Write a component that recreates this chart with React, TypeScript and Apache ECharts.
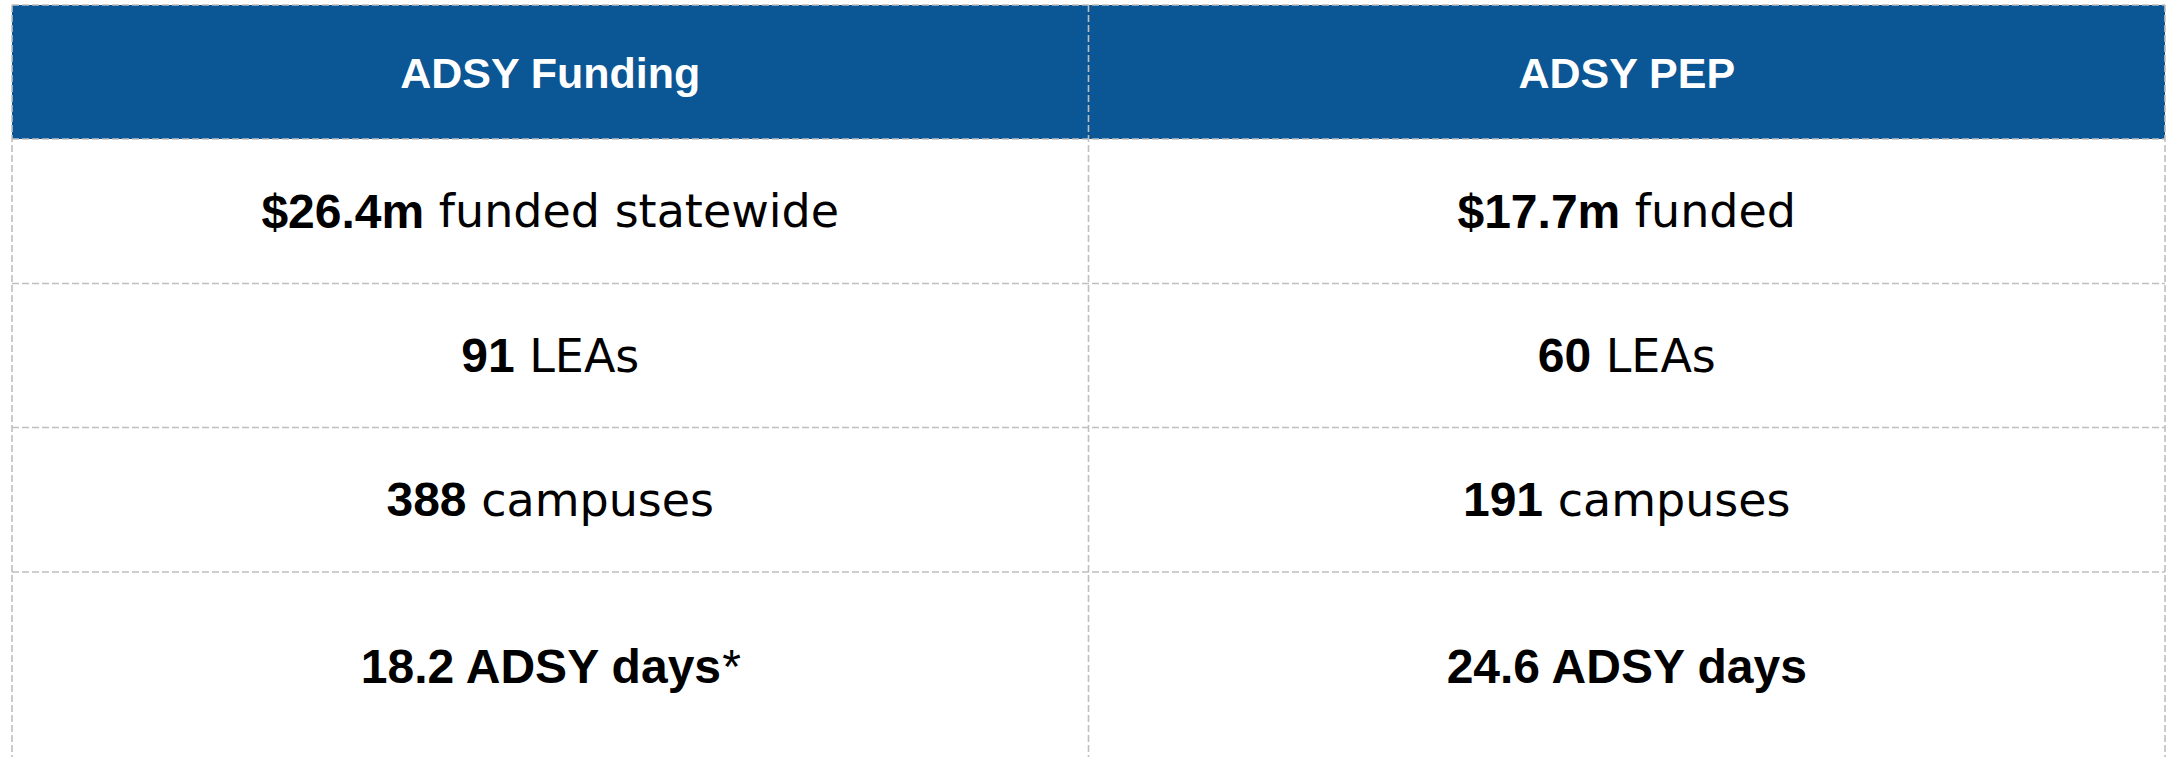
import React, { useEffect, useRef } from "react";
import * as echarts from "echarts";

const W = 2172;
const H = 757;

const headers = ["ADSY Funding", "ADSY PEP"];
const fundingBold = ["$26.4m", "91", "388", "18.2 ADSY days"];
const fundingText = [" funded statewide", " LEAs", " campuses", "*"];
const pepBold = ["$17.7m", "60", "191", "24.6 ADSY days"];
const pepText = [" funded", " LEAs", " campuses", ""];

const colEdges = [12, 1088.5, 2165];
const rowEdges = [5, 139, 283.5, 427.5, 572, 757];

const HEADER_BG = "#0B5694";
const GRID = "#BFBFBF";
const FONT = "'Liberation Sans', Arial, Helvetica, sans-serif";
const FONT_REG = "'DejaVu Sans', 'Liberation Sans', Arial, sans-serif";

export default function App() {
  const ref = useRef<HTMLDivElement>(null);

  useEffect(() => {
    if (!ref.current) return;
    const chart = echarts.init(ref.current, null, { renderer: "svg", width: W, height: H });
    const elements: any[] = [];

    elements.push({
      type: "rect",
      shape: { x: colEdges[0], y: rowEdges[0], width: colEdges[2] - colEdges[0], height: rowEdges[1] - rowEdges[0] },
      style: { fill: HEADER_BG },
      z: 1,
    });

    const dash = { stroke: GRID, lineWidth: 1.6, lineDash: [7, 3] };
    for (let i = 0; i < rowEdges.length - 1; i++) {
      elements.push({
        type: "line",
        shape: { x1: colEdges[0], y1: rowEdges[i], x2: colEdges[2], y2: rowEdges[i] },
        style: { ...dash },
        z: 5,
      });
    }
    colEdges.forEach((x) => {
      elements.push({
        type: "line",
        shape: { x1: x, y1: rowEdges[0], x2: x, y2: H },
        style: { ...dash },
        z: 5,
      });
    });

    headers.forEach((h, c) => {
      elements.push({
        type: "text",
        x: (colEdges[c] + colEdges[c + 1]) / 2,
        y: (rowEdges[0] + rowEdges[1]) / 2 + 1,
        style: {
          text: h,
          fill: "#FFFFFF",
          font: `bold 43px ${FONT}`,
          align: "center",
          verticalAlign: "middle",
        },
        z: 10,
      });
    });

    const cols = [
      { bold: fundingBold, text: fundingText },
      { bold: pepBold, text: pepText },
    ];
    cols.forEach((col, c) => {
      col.bold.forEach((b, r) => {
        const t = col.text[r];
        const key = t === "*" ? "a" : "r";
        const str = t ? `{b|${b}}{${key}|${t}}` : `{b|${b}}`;
        elements.push({
          type: "text",
          x: (colEdges[c] + colEdges[c + 1]) / 2,
          y: r === 3 ? 666 : (rowEdges[r + 1] + rowEdges[r + 2]) / 2,
          style: {
            text: str,
            align: "center",
            verticalAlign: "middle",
            rich: {
              b: { font: `bold 48px ${FONT}`, fill: "#000000" },
              r: { font: `46px ${FONT_REG}`, fill: "#000000" },
              a: { font: `48px ${FONT}`, fill: "#000000" },
            },
          },
          z: 10,
        });
      });
    });

    chart.setOption({
      animation: false,
      backgroundColor: "#FFFFFF",
      graphic: { elements },
    });

    return () => chart.dispose();
  }, []);

  return (
    <div
      ref={ref}
      style={{ position: "fixed", left: 0, top: 0, width: W, height: H }}
    />
  );
}
